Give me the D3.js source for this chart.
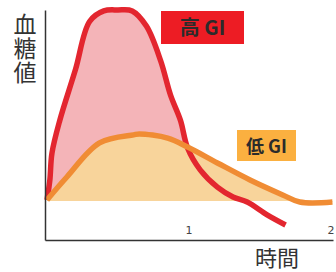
<!DOCTYPE html>
<html><head><meta charset="utf-8">
<script src="https://cdn.jsdelivr.net/npm/d3@7"></script>
<style>
html,body{margin:0;padding:0;background:#fff;}
svg{display:block;}
</style></head>
<body>
<svg id="c" width="336" height="272"></svg>
<script>
// Data
const highGI_t = [0, 0.02, 0.035, 0.09, 0.2, 0.3, 0.4, 0.5, 0.6, 0.7, 0.8, 0.87, 0.94, 0.99, 1.08, 1.2, 1.31, 1.41, 1.55, 1.68];
const highGI_v = [17.4, 26, 37.8, 52, 74, 95, 99.6, 100, 99.6, 93, 78, 63, 52, 40, 30.4, 23, 18.7, 16.5, 10.9, 6.5];
const lowGI_t = [0, 0.14, 0.37, 0.61, 0.65, 0.85, 0.99, 1.2, 1.43, 1.66, 1.78, 2.01];
const lowGI_v = [17.4, 27.4, 42.2, 45.7, 46.1, 44.3, 40.4, 33.5, 26.1, 19.6, 16.5, 16.5];
const baseline = 17;
const xTicks = [1, 2];
const seriesLabels = ["高 GI", "低 GI"];
const yTitle = "血糖値";
const xTitle = "時間";

const svg = d3.select("#c");
const x = d3.scaleLinear().domain([-0.014, 2.014]).range([45, 333]);
const y = d3.scaleLinear().domain([0, 100]).range([240, 10]);

const hi = highGI_t.map((t, i) => ({t, v: highGI_v[i]}));
const lo = lowGI_t.map((t, i) => ({t, v: lowGI_v[i]}));

const curve = d3.curveCatmullRom.alpha(0.5);
const defs = svg.append("defs");
defs.append("clipPath").attr("id", "above")
  .append("rect").attr("x", 0).attr("y", 0).attr("width", 336).attr("height", y(baseline));

const areaGen = d3.area().x(d => x(d.t)).y0(y(baseline)).y1(d => y(d.v)).curve(curve);
const lineGen = d3.line().x(d => x(d.t)).y(d => y(d.v)).curve(curve);

svg.append("path").datum(hi).attr("d", areaGen).attr("fill", "#f4b4b8").attr("clip-path", "url(#above)");
svg.append("path").datum(lo).attr("d", areaGen).attr("fill", "#f8d49b");
svg.append("path").datum(hi).attr("d", lineGen).attr("fill", "none").attr("stroke", "#e3262f").attr("stroke-width", 5.5).attr("stroke-linejoin", "round");
svg.append("path").datum(lo).attr("d", lineGen).attr("fill", "none").attr("stroke", "#f08c34").attr("stroke-width", 5.5).attr("stroke-linejoin", "round");

// axes
svg.append("g").attr("transform", `translate(0,${y(0)})`)
  .call(d3.axisBottom(x).tickValues([]).tickSizeOuter(0));
svg.append("g").attr("transform", `translate(${x(-0.014)},0)`)
  .call(d3.axisLeft(y.copy().domain([0, 99.1])).tickValues([]).tickSizeOuter(0));
svg.selectAll(".domain").attr("stroke", "#333").attr("stroke-width", 1.5);

svg.selectAll(".xt").data(xTicks).enter().append("text")
  .attr("x", d => x(d)).attr("y", 234).attr("text-anchor", "middle")
  .attr("font-family", "'DejaVu Sans', sans-serif").attr("font-size", 11).attr("fill", "#444")
  .text(d => d);

// labels
svg.append("rect").attr("x", 161).attr("y", 11).attr("width", 83).attr("height", 33).attr("fill", "#ed1c24");
svg.append("text").attr("x", 202.5).attr("y", 35).attr("text-anchor", "middle")
  .attr("font-family", "'Noto Sans CJK JP', sans-serif").attr("font-weight", "bold").attr("font-size", 20).attr("fill", "#2b2b2b")
  .text(seriesLabels[0]);
svg.append("rect").attr("x", 237).attr("y", 130).attr("width", 59).attr("height", 31).attr("fill", "#fbb040");
svg.append("text").attr("x", 266.5).attr("y", 152.5).attr("text-anchor", "middle")
  .attr("font-family", "'Noto Sans CJK JP', sans-serif").attr("font-weight", "bold").attr("font-size", 18).attr("fill", "#2b2b2b")
  .text(seriesLabels[1]);

svg.append("text").attr("x", 25).attr("y", 13)
  .attr("writing-mode", "vertical-rl").style("writing-mode", "vertical-rl")
  .attr("font-family", "'Noto Sans CJK JP', sans-serif").attr("font-size", 23).attr("letter-spacing", 1).attr("fill", "#333")
  .text(yTitle);
svg.append("text").attr("x", 277).attr("y", 266).attr("text-anchor", "middle")
  .attr("font-family", "'Noto Sans CJK JP', sans-serif").attr("font-size", 22).attr("fill", "#333")
  .text(xTitle);
</script>
</body></html>
